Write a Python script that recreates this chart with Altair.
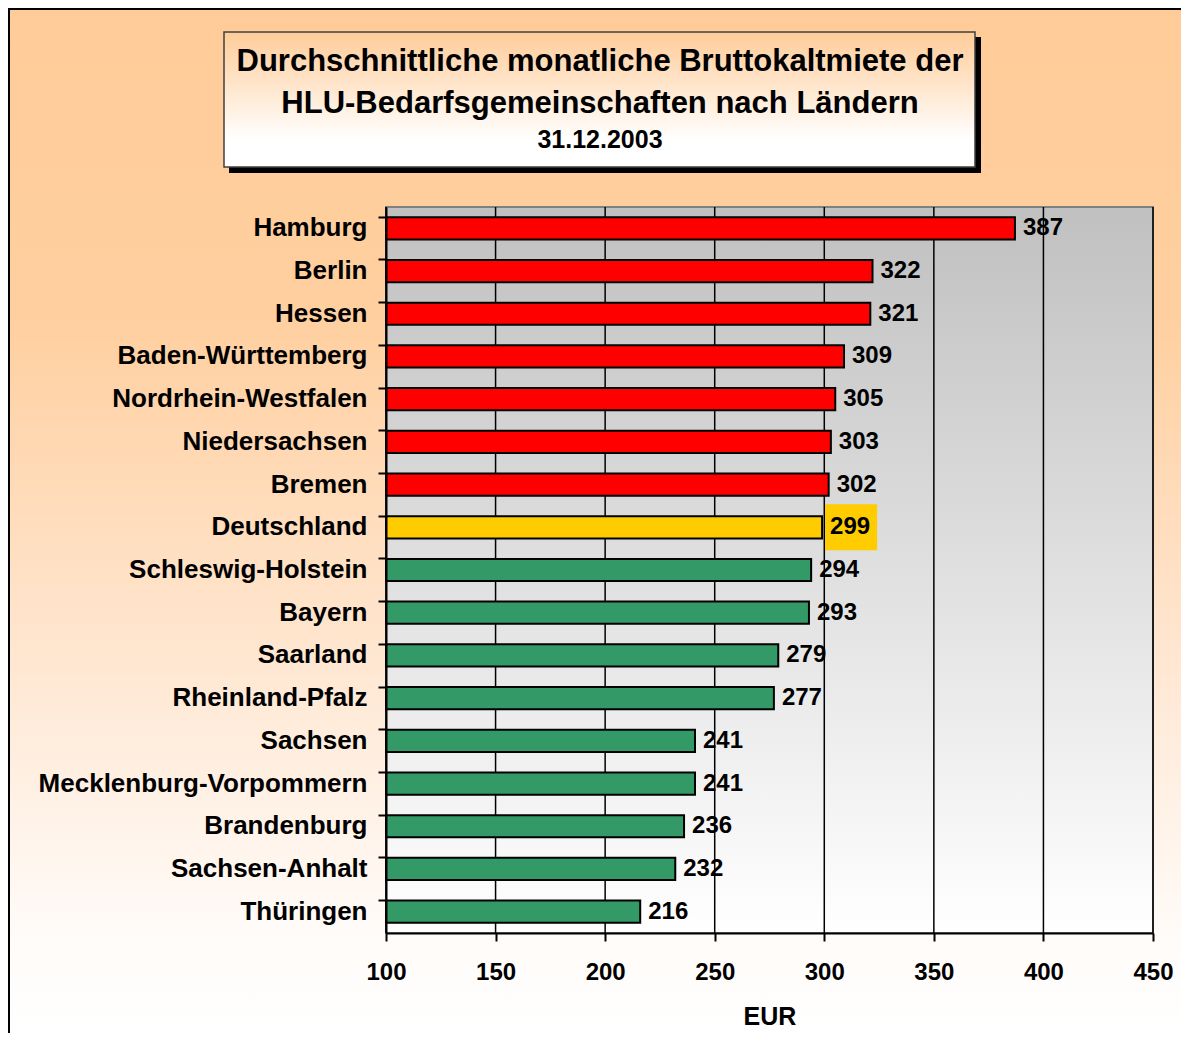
import altair as alt
import pandas as pd

# ---- data ----
lands = ["Hamburg", "Berlin", "Hessen", "Baden-Württemberg", "Nordrhein-Westfalen",
         "Niedersachsen", "Bremen", "Deutschland", "Schleswig-Holstein", "Bayern",
         "Saarland", "Rheinland-Pfalz", "Sachsen", "Mecklenburg-Vorpommern",
         "Brandenburg", "Sachsen-Anhalt", "Thüringen"]
values = [387, 322, 321, 309, 305, 303, 302, 299, 294, 293, 279, 277, 241, 241, 236, 232, 216]
groups = ["über"] * 7 + ["Deutschland"] + ["unter"] * 9
x_ticks = [100, 150, 200, 250, 300, 350, 400, 450]
title_lines = ["Durchschnittliche monatliche Bruttokaltmiete der",
               "HLU-Bedarfsgemeinschaften nach Ländern",
               "31.12.2003"]
x_title = "EUR"

df = pd.DataFrame({"Land": lands, "Wert": values, "Gruppe": groups})
ticks_df = pd.DataFrame({"v": x_ticks})
one = pd.DataFrame({"k": [0]})

FONT = "Liberation Sans"
W, H = 767, 726
PL, PT, PR, PB = 378, 199, 28, 100

x_scale = alt.Scale(domain=[100, 450], nice=False, zero=False)
x_axis = alt.Axis(values=x_ticks, title=x_title, grid=False, zindex=1, labelFlush=False,
                  labelFont=FONT, labelFontSize=24, labelFontWeight="bold", labelColor="black",
                  labelPadding=19, tickSize=8, tickColor="black", tickWidth=2,
                  domainColor="black", domainWidth=2,
                  titleFont=FONT, titleFontSize=25, titleFontWeight="bold", titleColor="black",
                  titlePadding=20)
y_enc = alt.Y("Land:N", sort=lands,
              scale=alt.Scale(paddingInner=0.48, paddingOuter=0.24),
              axis=alt.Axis(title=None, labelFont=FONT, labelFontSize=26, labelFontWeight="bold",
                            labelColor="black", labelPadding=11, labelLimit=0, tickSize=8,
                            tickColor="black", tickWidth=2, domainColor="black", domainWidth=2,
                            bandPosition=0, zindex=1, grid=False))

def vgrad(stops):
    return alt.LinearGradient(gradient="linear", x1=0, x2=0, y1=0, y2=1,
                              stops=[alt.GradientStop(color=c, offset=o) for o, c in stops])

# outer background (peach gradient) and frame lines (left and top)
bg = alt.Chart(one).mark_rect(
    fill=vgrad([(0, "#ffcc99"), (0.3, "#ffcf9f"), (0.6, "#ffe4cc"), (0.9, "#fffbf8"), (1, "#ffffff")])
).encode(x=alt.value(-PL), x2=alt.value(W + PR), y=alt.value(-PT), y2=alt.value(H + PB))
frame_left = alt.Chart(one).mark_rect(fill="black").encode(
    x=alt.value(-PL), x2=alt.value(-PL + 2), y=alt.value(-PT), y2=alt.value(H + PB))
frame_top = alt.Chart(one).mark_rect(fill="black").encode(
    x=alt.value(-PL), x2=alt.value(W + PR), y=alt.value(-PT), y2=alt.value(-PT + 2))

# title box
shadow = alt.Chart(one).mark_rect(fill="black").encode(
    x=alt.value(-157), x2=alt.value(595), y=alt.value(-170), y2=alt.value(-34))
box = alt.Chart(one).mark_rect(
    fill=vgrad([(0, "#ffcc99"), (0.8, "#ffffff"), (1, "#ffffff")]),
    stroke="#404040", strokeWidth=1.5
).encode(x=alt.value(-162), x2=alt.value(589), y=alt.value(-175), y2=alt.value(-40))

def tline(txt, size, y):
    return alt.Chart(pd.DataFrame({"t": [txt]})).mark_text(
        font=FONT, fontSize=size, fontWeight="bold", color="black",
        align="center", baseline="middle"
    ).encode(x=alt.value(214), y=alt.value(y), text="t:N")

t1 = tline(title_lines[0], 31, -145)
t2 = tline(title_lines[1], 31, -103)
t3 = tline(title_lines[2], 25, -67)

# plot area background
plotbg = alt.Chart(one).mark_rect(
    fill=vgrad([(0, "#c0c0c0"), (1, "#ffffff")]),
    stroke="#808080", strokeWidth=2
).encode(x=alt.value(0), x2=alt.value(W), y=alt.value(0), y2=alt.value(H))

grid = alt.Chart(ticks_df).mark_rule(color="black", strokeWidth=1.5).encode(
    x=alt.X("v:Q", scale=x_scale, axis=x_axis))

bars = alt.Chart(df).mark_bar(stroke="black", strokeWidth=2).encode(
    x=alt.X("Wert:Q", scale=x_scale, axis=x_axis),
    x2=alt.datum(100),
    y=y_enc,
    color=alt.Color("Gruppe:N", legend=None,
                    scale=alt.Scale(domain=["über", "Deutschland", "unter"],
                                    range=["#ff0000", "#ffcc00", "#339966"])))

hl = alt.Chart(df).transform_filter(alt.datum.Land == "Deutschland").mark_bar(
    size=46, color="#ffcc00", xOffset=3, x2Offset=55
).encode(x=alt.X("Wert:Q", scale=x_scale, axis=x_axis), x2="Wert:Q", y=y_enc)

labels = alt.Chart(df).mark_text(
    align="left", baseline="middle", dx=8, font=FONT, fontSize=24,
    fontWeight="bold", color="black"
).encode(x=alt.X("Wert:Q", scale=x_scale, axis=x_axis), y=y_enc, text="Wert:Q")

chart = alt.layer(bg, frame_left, frame_top, shadow, box, t1, t2, t3,
                  plotbg, grid, bars, hl, labels).properties(
    width=W, height=H,
    padding={"left": PL, "top": PT, "right": PR, "bottom": PB},
    autosize=alt.AutoSizeParams(type="none"),
    background="white"
).configure_view(stroke=None)

chart.save("out.html", embed_options={"renderer": "svg", "actions": False})
